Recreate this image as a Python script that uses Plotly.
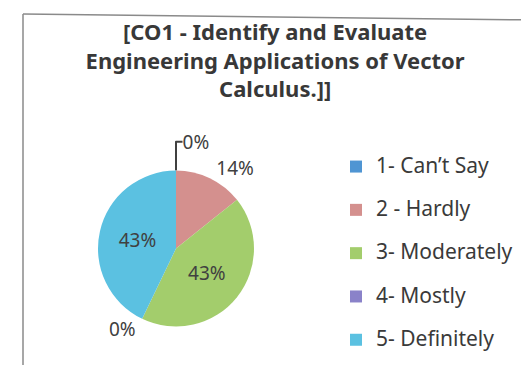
import plotly.graph_objects as go

categories = ["1- Can\u2019t Say", "2 - Hardly", "3- Moderately", "4- Mostly", "5- Definitely"]
counts = [0, 1, 3, 0, 3]
colors = ["#4F95D3", "#D4908E", "#A3CD6C", "#8A82C9", "#5BC1E1"]
text_positions = ["outside", "outside", "inside", "outside", "inside"]

title_text = "[CO1 - Identify and Evaluate<br>Engineering Applications of Vector<br>Calculus.]]"

legend_labels = ["<span style='font-size:21px'>" + c + "</span><br> " for c in categories]

fig = go.Figure(
    go.Pie(
        labels=legend_labels,
        values=counts,
        sort=False,
        direction="clockwise",
        rotation=0,
        marker=dict(colors=colors, line=dict(width=0)),
        textinfo="percent",
        texttemplate="%{percent:.0%}",
        textposition=text_positions,
        textfont=dict(family="Noto Sans", size=19, color="#404040"),
        insidetextorientation="horizontal",
        outsidetextfont=dict(family="Noto Sans", size=19, color="#404040"),
        domain=dict(x=[90 / 529, 246 / 529], y=[46 / 365, 203 / 365]),
        hoverinfo="percent",
        showlegend=True,
    )
)

fig.update_layout(
    width=529,
    height=365,
    margin=dict(l=0, r=0, t=0, b=0, autoexpand=False),
    paper_bgcolor="white",
    plot_bgcolor="white",
    title=dict(
        text=title_text,
        x=0.505,
        xanchor="center",
        y=0.912,
        yanchor="top",
        font=dict(family="Noto Sans", size=22, color="#383838", weight="bold"),
    ),
    legend=dict(
        x=0.62,
        xanchor="left",
        y=0.611,
        yanchor="top",
        valign="top",
        font=dict(family="Noto Sans", size=15.5, color="#3A3A3A"),
        itemwidth=30,
        bgcolor="rgba(0,0,0,0)",
    ),
    shapes=[
        dict(type="line", xref="paper", yref="paper", x0=15 / 529, x1=15 / 529, y0=0, y1=1 - 6 / 365,
             line=dict(color="#8A8A8A", width=1.5)),
        dict(type="line", xref="paper", yref="paper", x0=15 / 529, x1=1, y0=1 - 6 / 365, y1=1 - 12 / 365,
             line=dict(color="#8A8A8A", width=1.5)),
    ],
)

fig.write_html("out.html")
